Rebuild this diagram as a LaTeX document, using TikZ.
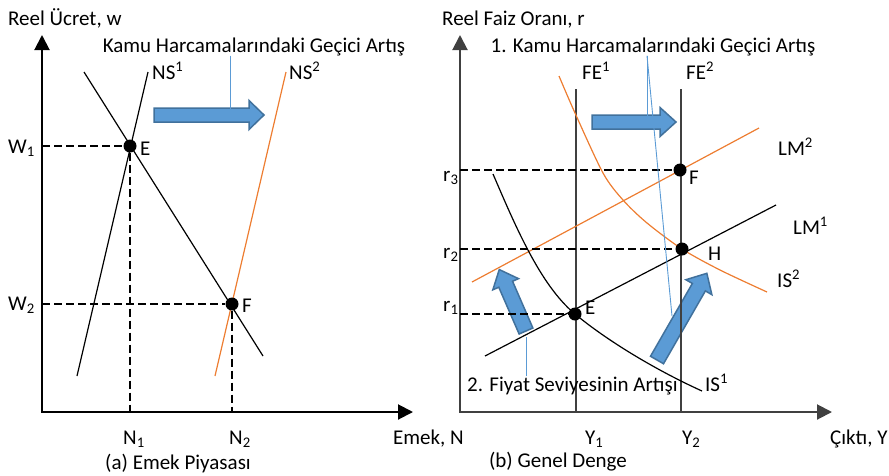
\documentclass[tikz,border=0pt]{standalone}
\usepackage{fontspec}
\setmainfont{Carlito}
\usetikzlibrary{positioning,arrows.meta}

\definecolor{shiftblue}{HTML}{5B9BD5}
\definecolor{shiftedge}{HTML}{41719C}
\definecolor{newcurve}{HTML}{ED7D31}
\definecolor{axisgrey}{HTML}{404040}

\tikzset{
  lbl/.style={inner sep=0pt, font=\fontsize{21}{25}\selectfont},
  axisline/.style={line width=2pt, {Triangle[length=15pt,width=15pt]}-{Triangle[length=15pt,width=15pt]}},
  feline/.style={line width=2pt, draw=axisgrey},
  curve/.style={line width=1.2pt},
  shifted/.style={line width=1.2pt, draw=newcurve},
  guide/.style={line width=1.6pt, dash pattern=on 8pt off 4pt},
  dot/.style={circle, fill=black, inner sep=0pt, minimum size=13pt},
  callout/.style={line width=0.9pt, draw=shiftblue},
  shiftfill/.style={fill=shiftblue, draw=shiftedge, line width=1.5pt},
  pics/shiftarrow/.style args={#1/#2/#3/#4}{code={
    \filldraw[shiftfill] (0,-#2) -- ({#1-#4},-#2) -- ({#1-#4},-#3) -- (#1,0)
      -- ({#1-#4},#3) -- ({#1-#4},#2) -- (0,#2) -- cycle;
  }},
}

\begin{document}
\begin{tikzpicture}[x=1pt, y=-1pt]
  \useasboundingbox (0,0) rectangle (889,475);

  % (a) Emek Piyasasi
  \coordinate (O1) at (42,412);
  \coordinate (wtop) at (42,35);
  \coordinate (nend) at (413,412);
  \draw[axisline] (wtop) -- (O1) -- (nend);

  \pic at (154,115) {shiftarrow=110/7/14.5/15};

  \draw[curve] (77,376) -- (148,72); % NS1
  \draw[curve] (84,72) -- (263,356); % talep
  \draw[shifted] (215,376) -- (286,72); % NS2

  \node[dot] (E1) at (130,146) {};
  \node[dot] (F1) at (232,304) {};
  \draw[guide] (O1 |- E1) -- (E1) -- (E1 |- O1);
  \draw[guide] (O1 |- F1) -- (F1) -- (F1 |- O1);

  \node[lbl, anchor=base west] (wlabel) at (8,25) {Reel Ücret, w};
  \node[lbl, anchor=base] (kamuA) at (254,52) {Kamu Harcamalarındaki Geçici Artış};
  \node[lbl, anchor=base west] (ns1) at (152,79) {NS\textsuperscript{1}};
  \node[lbl, anchor=base west] (ns2) at (289,79) {NS\textsuperscript{2}};
  \node[lbl, anchor=base east] (w1) at (35,153) {W\textsubscript{1}};
  \node[lbl, anchor=base east] (w2) at (35,310) {W\textsubscript{2}};
  \node[lbl, anchor=base west] (e1lbl) at (140,155) {E};
  \node[lbl, anchor=base west] (f1lbl) at (242,312) {F};
  \node[lbl, anchor=base] (n1) at (134,444) {N\textsubscript{1}};
  \node[lbl, anchor=base] (n2) at (240,444) {N\textsubscript{2}};
  \node[lbl, anchor=base west] (nlabel) at (393,444) {Emek, N};
  \node[lbl, anchor=base] (capA) at (178,469) {(a) Emek Piyasası};

  \coordinate (tipA) at (230,109);
  \draw[callout] (kamuA.south -| tipA) -- (tipA);

  % (b) Genel Denge
  \coordinate (O2) at (460,412);
  \coordinate (rtop) at (460,35);
  \coordinate (yend) at (832,412);

  \pic at (592,122) {shiftarrow=84/7/14.5/16};
  \pic[rotate=113.5] at (526,331) {shiftarrow=67/7.5/14/16};
  \pic[rotate=60.1] at (657,360) {shiftarrow=100/7.5/15/16};

  \draw[axisline, axisgrey] (rtop) -- (O2) -- (yend);
  \draw[feline] (576,89) -- (576,412); % FE1
  \draw[feline] (681,89) -- (681,412); % FE2

  \draw[curve] (485,356) -- (776,205); % LM1
  \draw[shifted] (472,282) -- (759,128); % LM2
  \draw[curve] (493,174) .. controls (515,225) and (540,285) .. (575,314)
    .. controls (610,343) and (660,372) .. (702,391); % IS1
  \draw[shifted] plot[smooth] coordinates {(559,76) (575,113) (603,173)
    (623,200) (647,223) (682,249) (720,270) (767,292)}; % IS2

  \node[dot] (E2) at (575,314) {};
  \node[dot] (H) at (682,249) {};
  \node[dot] (F2) at (680,170) {};
  \draw[guide] (O2 |- E2) -- (E2);
  \draw[guide] (O2 |- H) -- (H);
  \draw[guide] (O2 |- F2) -- (F2);

  \node[lbl, anchor=base west] (rlabel) at (442,25) {Reel Faiz Oranı, r};
  \node[lbl, anchor=base] (kamuB) at (653,52) {1. Kamu Harcamalarındaki Geçici Artış};
  \node[lbl, anchor=base west] (fe1) at (582,79) {FE\textsuperscript{1}};
  \node[lbl, anchor=base west] (fe2) at (686,79) {FE\textsuperscript{2}};
  \node[lbl, anchor=base west] (lm2) at (778,155) {LM\textsuperscript{2}};
  \node[lbl, anchor=base west] (lm1) at (793,234) {LM\textsuperscript{1}};
  \node[lbl, anchor=base west] (is2) at (777,287) {IS\textsuperscript{2}};
  \node[lbl, anchor=base west] (is1) at (705,391) {IS\textsuperscript{1}};
  \node[lbl, anchor=base west] (r3) at (443,181) {r\textsubscript{3}};
  \node[lbl, anchor=base west] (r2) at (443,258) {r\textsubscript{2}};
  \node[lbl, anchor=base west] (r1) at (443,311) {r\textsubscript{1}};
  \node[lbl, anchor=base west] (f2lbl) at (689,184) {F};
  \node[lbl, anchor=base west] (hlbl) at (708,260) {H};
  \node[lbl, anchor=base west] (e2lbl) at (585,314) {E};
  \node[lbl, anchor=base west] (y1) at (585,444) {Y\textsubscript{1}};
  \node[lbl, anchor=base west] (y2) at (682,444) {Y\textsubscript{2}};
  \node[lbl, anchor=base west] (ylabel) at (830,444) {Çıktı, Y};
  \node[lbl, anchor=base] (capB) at (558,467) {(b) Genel Denge};
  \node[lbl, anchor=base west] (fiyat) at (467,391) {2. Fiyat Seviyesinin Artışı};

  \coordinate (tipB) at (647,122);
  \coordinate (tipC) at (672,316);
  \coordinate (tipD) at (526,337);
  \draw[callout] (kamuB.south -| tipB) -- (tipB);
  \draw[callout] (kamuB.south -| tipB) -- (tipC);
  \draw[callout] (fiyat.north -| tipD) -- (tipD);
\end{tikzpicture}
\end{document}
